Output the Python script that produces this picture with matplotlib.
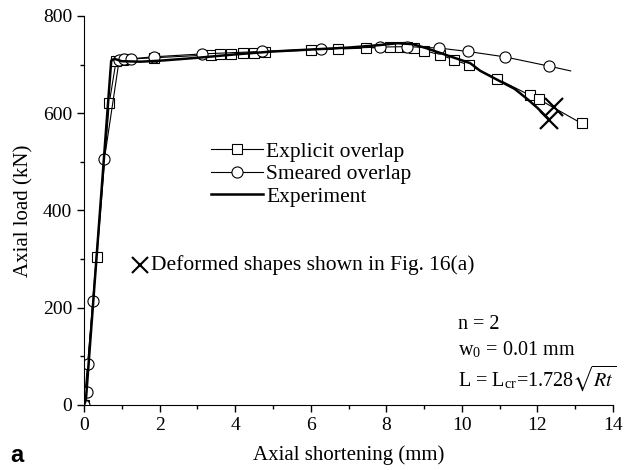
import numpy as np
import matplotlib
matplotlib.use("Agg")
import matplotlib.pyplot as plt
from matplotlib.ticker import MultipleLocator

plt.rcParams['font.family'] = ['Liberation Serif', 'DejaVu Serif']
plt.rcParams['mathtext.fontset'] = 'stix'

# explicit overlap model (square markers)
explicit_x = [0.0, 0.34, 0.67, 0.85, 1.02, 1.12, 1.84, 3.35, 3.6, 3.9, 4.2, 4.5, 4.8,
              6.0, 6.73, 7.46, 8.1, 8.35, 8.55, 8.74, 9.01, 9.42, 9.79, 10.18, 10.93,
              11.8, 12.03, 13.17]
explicit_y = [0, 304, 622, 708, 710, 711, 714, 720, 721, 722, 723, 724, 726,
              730, 732, 734, 736, 736, 736, 735, 729, 720, 710, 699, 671,
              637, 629, 579]

# smeared overlap model (circle markers, last point has no marker)
smeared_x = [0.0, 0.07, 0.11, 0.23, 0.54, 0.93, 1.07, 1.25, 1.84, 3.12, 4.7,
             6.27, 7.83, 8.55, 9.4, 10.16, 11.13, 12.3, 12.88]
smeared_y = [0, 26, 84, 214, 506, 709, 711, 712, 716, 722, 727,
             732, 736, 737, 734, 727, 716, 697, 687]

# test result
exp_x = [0.0, 0.05, 0.72, 0.8, 1.0, 1.5, 2.0, 3.0, 4.0, 5.0, 6.0, 7.0, 7.8, 8.3,
         8.7, 9.05, 9.5, 10.22, 10.49, 11.03, 11.4, 11.75, 12.0, 12.31]
exp_y = [0, 10, 708, 712, 707, 706, 708, 714, 721, 727, 731, 735, 740, 744,
         742, 734, 722, 703, 687, 665, 650, 628, 611, 587]

# points where the deformed shapes were taken
shape_x = [12.43, 12.31]
shape_y = [613, 587]

fig = plt.figure(figsize=(6.25, 4.7), dpi=100)
ax = fig.add_axes([0.1344, 0.1383, 0.8464, 0.8277])

ax.plot(explicit_x, explicit_y, color='black', lw=0.8, marker='s', ms=7,
        mfc='white', mec='black', mew=0.8, label='Explicit overlap')
ax.plot(smeared_x, smeared_y, color='black', lw=0.8, marker='o', ms=8,
        mfc='white', mec='black', mew=0.8, markevery=list(range(len(smeared_x) - 1)),
        label='Smeared overlap')
ax.plot(exp_x, exp_y, color='black', lw=1.8, label='Experiment')
ax.plot(shape_x, shape_y, ls='none', marker='x', ms=13, mec='black', mew=1.6)

ax.set_xlim(0, 14)
ax.set_ylim(0, 800)
ax.xaxis.set_major_locator(MultipleLocator(2))
ax.xaxis.set_minor_locator(MultipleLocator(1))
ax.yaxis.set_major_locator(MultipleLocator(200))
ax.yaxis.set_minor_locator(MultipleLocator(100))
for s in ['top', 'right']:
    ax.spines[s].set_visible(False)
ax.tick_params(which='major', direction='out', length=5, width=1, labelsize=14)
ax.tick_params(which='minor', direction='out', length=3, width=1)

ax.set_xlabel('Axial shortening (mm)', fontsize=15, labelpad=8)
ax.set_ylabel('Axial load (kN)', fontsize=15, labelpad=7)

ax.legend(loc='upper left', bbox_to_anchor=(0.22, 0.705), frameon=False, fontsize=15.5,
          handlelength=2.4, handletextpad=0.15, labelspacing=0.12, borderpad=0)

ax.plot([0.106], [0.36], transform=ax.transAxes, ls='none', marker='x', ms=11,
        mec='black', mew=1.5)
ax.text(0.126, 0.36, 'Deformed shapes shown in Fig. 16(a)', transform=ax.transAxes,
        fontsize=15.5, va='center', ha='left')

ax.text(0.707, 0.206, 'n = 2', transform=ax.transAxes, fontsize=14.5, va='center')
ax.text(0.707, 0.141, r'w$_{\mathregular{0}}$ = 0.01 mm', transform=ax.transAxes,
        fontsize=14.5, va='center')
ax.text(0.707, 0.069, r'L = L$_{\mathregular{cr}}$=1.728$\sqrt{Rt}$',
        transform=ax.transAxes, fontsize=14.5, va='center')

fig.text(0.016, 0.018, 'a', fontsize=17, fontweight='bold',
         family=['Liberation Sans', 'DejaVu Sans'])

fig.savefig('out.png', dpi=100)
